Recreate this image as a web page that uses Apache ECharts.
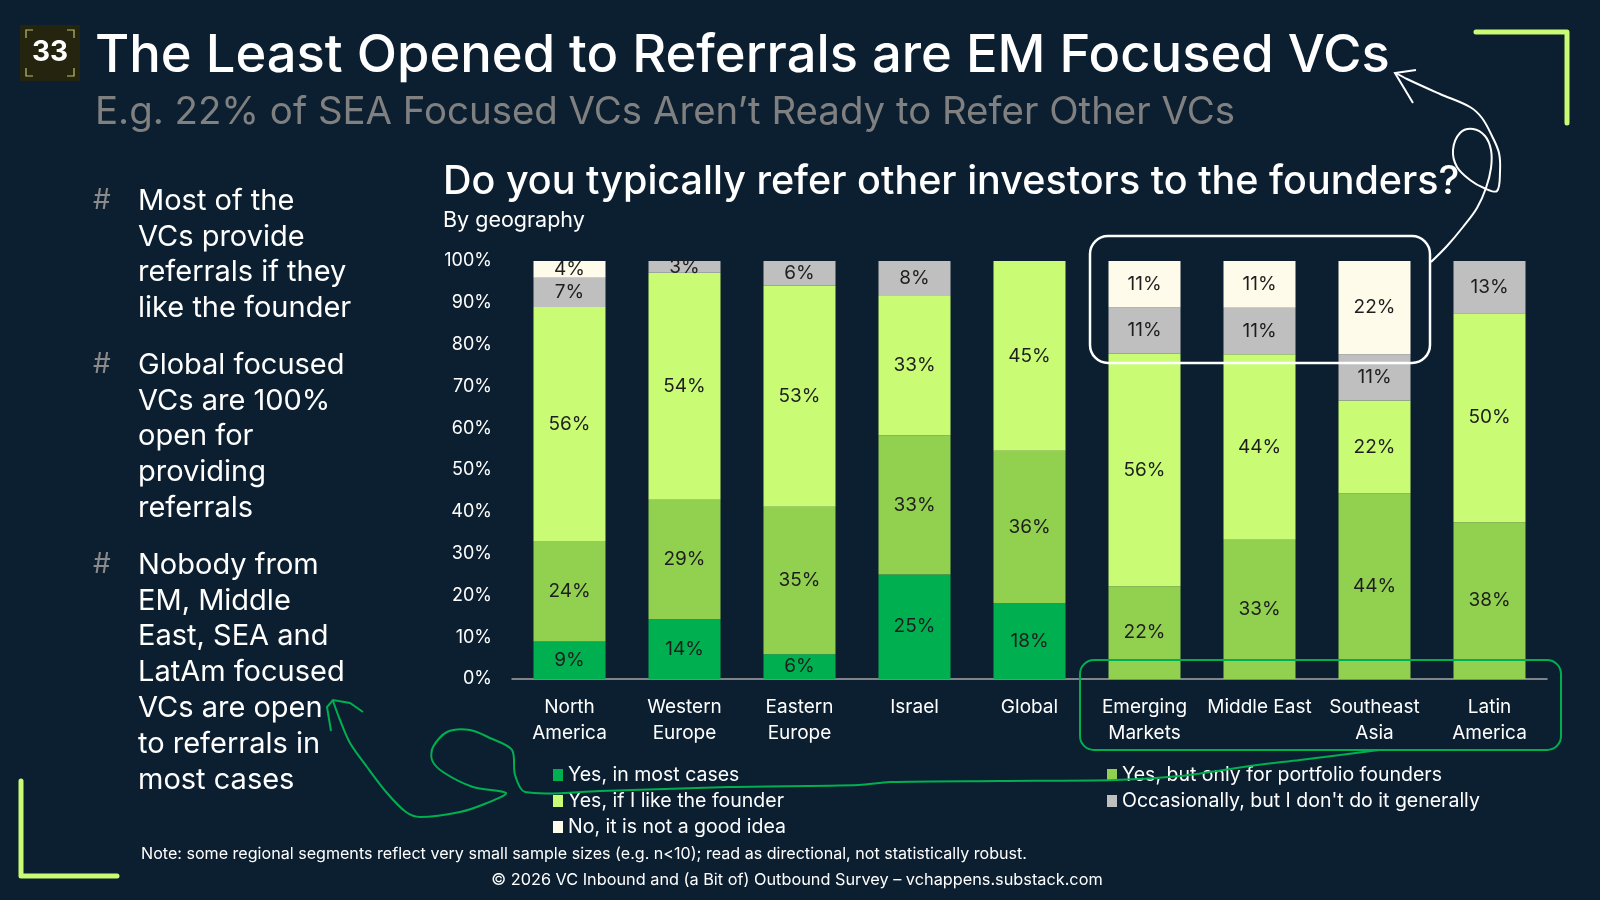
<!DOCTYPE html>
<html lang="en">
<head>
    <meta charset="UTF-8">
    <script src="https://cdn.jsdelivr.net/npm/echarts@6/dist/echarts.min.js"></script>
</head>
<style>
    html, body {
        width: 100%;
        height: 100%;
        margin: 0;
        background: #0c1f31;
    }
</style>
<body>

<div id="main" style="width:1600px;height:900px;"></div>

<script type="text/javascript">

    // categories (x axis)
    const regions = ['North\nAmerica', 'Western\nEurope', 'Eastern\nEurope', 'Israel', 'Global',
        'Emerging\nMarkets', 'Middle East', 'Southeast\nAsia', 'Latin\nAmerica'];

    // series, bottom to top of the stack (in %, labels are rounded)
    const mostCases    = [9, 14.3, 5.9, 25, 18.2, 0, 0, 0, 0];
    const portfolio    = [24, 28.6, 35.3, 33.3, 36.4, 22.2, 33.3, 44.4, 37.5];
    const likeFounder  = [56, 54.3, 52.9, 33.3, 45.4, 55.6, 44.4, 22.2, 50];
    const occasionally = [7, 2.8, 5.9, 8.4, 0, 11.1, 11.1, 11.1, 12.5];
    const notGoodIdea  = [4, 0, 0, 0, 0, 11.1, 11.2, 22.3, 0];

    const seriesNames = ['Yes, in most cases', 'Yes, but only for portfolio founders',
        'Yes, if I like the founder', 'Occasionally, but I don\'t do it generally', 'No, it is not a good idea'];
    const seriesColors = ['#00b050', '#92d050', '#c9fc74', '#bfbfbf', '#fffbea'];

    const bullets = [
        'Most of the\nVCs provide\nreferrals if they\nlike the founder',
        'Global focused\nVCs are 100%\nopen for\nproviding\nreferrals',
        'Nobody from\nEM, Middle\nEast, SEA and\nLatAm focused\nVCs are open\nto referrals in\nmost cases'
    ];

    const FONT = 'Inter, "Noto Sans", sans-serif';

    let myEcharts = echarts.init(document.getElementById('main'));

    function txt(x, y, text, size, color, extra) {
        return {
            type: 'text', x: x, y: y, z: 10,
            style: Object.assign({
                text: text, fill: color, fontSize: size, fontFamily: FONT,
                align: 'left', verticalAlign: 'middle',
                textAlign: 'left', textVerticalAlign: 'middle'
            }, extra || {})
        };
    }

    let graphics = [];

    // slide number box
    graphics.push({type: 'rect', shape: {x: 20, y: 25, width: 60, height: 56}, style: {fill: '#25250f'}});
    graphics.push({type: 'polyline', shape: {points: [[26, 38], [26, 30], [33, 30]]}, style: {stroke: '#b9c46e', lineWidth: 1.2, fill: null}});
    graphics.push({type: 'polyline', shape: {points: [[67, 30], [74, 30], [74, 38]]}, style: {stroke: '#b9c46e', lineWidth: 1.2, fill: null}});
    graphics.push({type: 'polyline', shape: {points: [[26, 68], [26, 76], [33, 76]]}, style: {stroke: '#b9c46e', lineWidth: 1.2, fill: null}});
    graphics.push({type: 'polyline', shape: {points: [[67, 76], [74, 76], [74, 68]]}, style: {stroke: '#b9c46e', lineWidth: 1.2, fill: null}});
    graphics.push(txt(50, 53, '33', 28, '#ffffff', {fontWeight: 'bold', align: 'center', textAlign: 'center'}));

    // titles
    graphics.push(txt(95, 56, 'The Least Opened to Referrals are EM Focused VCs', 52.5, '#ffffff', {fontWeight: 500}));
    graphics.push(txt(95, 112, 'E.g. 22% of SEA Focused VCs Aren\u2019t Ready to Refer Other VCs', 38.4, '#808080'));
    graphics.push(txt(443, 182, 'Do you typically refer other investors to the founders?', 39.5, '#ffffff', {fontWeight: 500}));
    graphics.push(txt(443, 221, 'By geography', 21.5, '#ffffff'));

    // bullets
    let bulletTops = [201, 365, 565];
    bullets.forEach(function (b, i) {
        graphics.push(txt(93, bulletTops[i], '#', 28, '#8a8a8a'));
        graphics.push(txt(138, bulletTops[i] - 18, b, 29, '#ffffff', {lineHeight: 35.9, verticalAlign: 'top', textVerticalAlign: 'top'}));
    });

    // corner brackets
    graphics.push({type: 'polyline', shape: {points: [[1476, 32], [1567, 32], [1567, 123]]},
        style: {stroke: '#c9fc74', lineWidth: 5, fill: null, lineCap: 'round', lineJoin: 'round'}});
    graphics.push({type: 'polyline', shape: {points: [[21, 781], [21, 876], [117, 876]]},
        style: {stroke: '#c9fc74', lineWidth: 5, fill: null, lineCap: 'round', lineJoin: 'round'}});

    // highlight boxes
    graphics.push({type: 'rect', z: 20, shape: {x: 1090, y: 236, width: 340, height: 127, r: 18},
        style: {stroke: '#ffffff', lineWidth: 2.5, fill: null}});
    graphics.push({type: 'rect', z: 20, shape: {x: 1080, y: 660, width: 481, height: 90, r: 14},
        style: {stroke: '#00b050', lineWidth: 2, fill: null}});

    // hand-drawn white arrow
    graphics.push({type: 'polyline', z: 20, shape: {smooth: 0.35, points: [
        [1431, 262], [1447, 246], [1463, 227], [1477, 208], [1486, 188], [1491, 168], [1491, 150],
        [1485, 136], [1473, 129], [1460, 133], [1453, 150], [1457, 167], [1470, 180], [1484, 188],
        [1497, 191], [1500, 172], [1499, 153], [1492, 136], [1482, 118], [1470, 107], [1440, 94],
        [1407, 79], [1396, 73]]}, style: {stroke: '#ffffff', lineWidth: 2, fill: null}});
    graphics.push({type: 'polyline', z: 20, shape: {points: [[1416, 70], [1395, 73], [1413, 103]]},
        style: {stroke: '#ffffff', lineWidth: 2, fill: null}});

    // hand-drawn green arrow
    graphics.push({type: 'polyline', z: 20, shape: {smooth: 0.3, points: [
        [1379, 750], [1300, 760], [1257, 765], [1180, 776], [1115, 780], [1000, 781], [890, 782],
        [859, 785], [729, 787], [600, 791], [525, 792], [515, 775], [512, 750], [490, 738], [470, 730],
        [447, 732], [433, 747], [432, 760], [443, 772], [473, 787], [506, 793], [487, 803], [460, 812],
        [420, 817], [406, 812], [387, 793], [367, 767], [350, 743], [340, 720], [333, 701]]},
        style: {stroke: '#00b050', lineWidth: 2, fill: null}});
    graphics.push({type: 'polyline', z: 20, shape: {points: [[331, 731], [327, 707], [333, 700], [350, 703], [363, 712]]},
        style: {stroke: '#00b050', lineWidth: 2, fill: null}});

    // footnotes
    graphics.push(txt(141, 854, 'Note: some regional segments reflect very small sample sizes (e.g. n<10); read as directional, not statistically robust.', 16.1, '#ffffff'));
    graphics.push(txt(797, 880, '\u00a9 2026 VC Inbound and (a Bit of) Outbound Survey \u2013 vchappens.substack.com', 16.3, '#ffffff', {align: 'center', textAlign: 'center'}));

    const values = [mostCases, portfolio, likeFounder, occasionally, notGoodIdea];

    let series = values.map(function (v, i) {
        return {
            name: seriesNames[i],
            type: 'bar',
            stack: 'total',
            barWidth: 72,
            data: v,
            itemStyle: {color: seriesColors[i]},
            label: {
                show: true,
                position: 'inside',
                color: '#1e1e1e',
                fontSize: 19,
                fontFamily: FONT,
                formatter: function (p) {
                    return p.value ? Math.round(p.value) + '%' : '';
                }
            }
        };
    });

    let legendStyle = {
        orient: 'vertical',
        icon: 'rect',
        itemWidth: 10,
        itemHeight: 12,
        itemGap: 6,
        padding: 0,
        textStyle: {color: '#ffffff', fontSize: 19.5, fontFamily: FONT, lineHeight: 20}
    };

    let option = {
        backgroundColor: '#0c1f31',
        animation: false,
        grid: {left: 512, right: 53, top: 261, bottom: 221},
        legend: [
            Object.assign({left: 553, top: 765, data: [seriesNames[0], seriesNames[2], seriesNames[4]]}, legendStyle),
            Object.assign({left: 1107, top: 765, data: [seriesNames[1], seriesNames[3]]}, legendStyle)
        ],
        xAxis: {
            type: 'category',
            data: regions,
            axisTick: {show: false},
            axisLine: {lineStyle: {color: '#a6a6a6', width: 1.5}},
            axisLabel: {color: '#ffffff', fontSize: 19, fontFamily: FONT, lineHeight: 26, margin: 15, interval: 0}
        },
        yAxis: {
            type: 'value',
            min: 0,
            max: 100,
            interval: 10,
            splitLine: {show: false},
            axisLine: {show: false},
            axisLabel: {color: '#ffffff', fontSize: 18, fontFamily: FONT, margin: 20, formatter: '{value}%'}
        },
        graphic: graphics,
        series: series
    };

    myEcharts.setOption(option);

</script>
</body>
</html>
